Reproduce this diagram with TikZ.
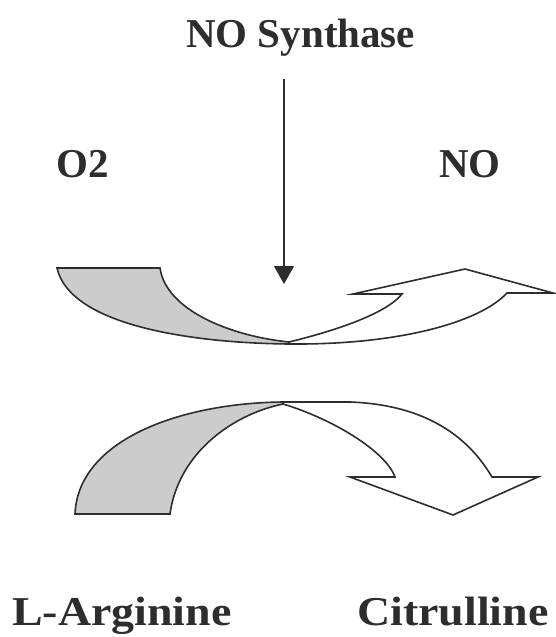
\documentclass[tikz,border=0pt]{standalone}
\usepackage{fontspec}
\usepackage{graphicx}
\setmainfont{Liberation Serif}
\usetikzlibrary{arrows.meta}
\definecolor{shade}{RGB}{204,204,204}
\definecolor{edge}{RGB}{45,45,45}
\tikzset{
  lbl/.style={anchor=base west,inner sep=0pt,font=\fontsize{41}{48}\selectfont\bfseries,text=edge},
  part/.style={draw=edge,line width=1.6pt,line join=miter},
  grey/.style={part,fill=shade},
  white/.style={part,fill=white},
}
\begin{document}
\begin{tikzpicture}[x=1pt,y=-1pt]
\useasboundingbox (0,0) rectangle (555,637);
% labels
\node[lbl] (syn) at (186,47) {NO Synthase};
\node[lbl] (o2) at (56,177) {O2};
\node[lbl] (no) at (439,177) {NO};
\node[lbl] (arg) at (12,625) {\scalebox{1.12}[1]{L-Arginine}};
\node[lbl] (cit) at (357,625) {\scalebox{1.12}[1]{Citrulline}};
% top curved arrow: white head part
\draw[white] (289,342) .. controls (330,332) and (385,315) .. (402,294)
  -- (353,294) -- (465,269) -- (553,293) -- (507,293)
  .. controls (480,322) and (400,345) .. (289,344) -- cycle;
% top curved arrow: grey tail
\draw[grey] (57,268) -- (160,268)
  .. controls (166,310) and (230,336) .. (289,342)
  -- (289,344)
  .. controls (190,343) and (70,325) .. (57,268) -- cycle;
% bottom curved arrow: white head part
\draw[white] (283,404) .. controls (330,418) and (385,450) .. (395,477)
  -- (350,477) -- (453,515) -- (538,477) -- (492,477)
  .. controls (470,440) and (430,405) .. (350,402) -- (283,402) -- cycle;
% bottom curved arrow: grey tail
\draw[grey] (75,514) -- (170,514)
  .. controls (178,455) and (230,415) .. (283,404)
  -- (283,402)
  .. controls (180,403) and (78,440) .. (75,514) -- cycle;
% enzyme arrow
\coordinate (a1) at (284,79);
\coordinate (a2) at (284,284);
\draw[edge,line width=1.2pt,-{Triangle[length=18pt,width=20pt]}] (a1) -- (a2);
\end{tikzpicture}
\end{document}
